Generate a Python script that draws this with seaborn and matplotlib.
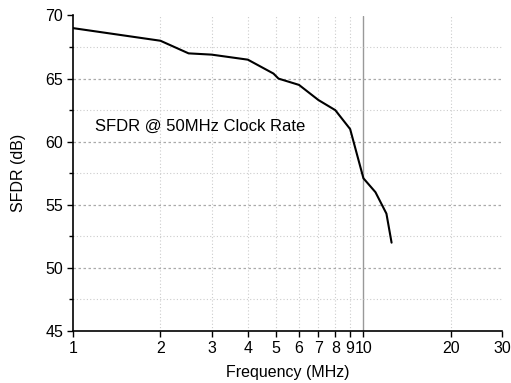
import matplotlib
matplotlib.use("Agg")
import matplotlib.pyplot as plt
import seaborn as sns
import pandas as pd
from matplotlib.ticker import FixedLocator, FixedFormatter, MultipleLocator, NullLocator

freq_mhz = [1, 2, 2.5, 3, 4, 4.9, 5.1, 6, 7, 8, 9, 10, 11, 12, 12.5]
sfdr_db = [69.0, 68.0, 67.0, 66.9, 66.5, 65.4, 65.0, 64.5, 63.3, 62.5, 61.0, 57.1, 56.0, 54.3, 52.0]
x_ticks = [1, 2, 3, 4, 5, 6, 7, 8, 9, 10, 20, 30]
x_tick_labels = ["1", "2", "3", "4", "5", "6", "7", "8", "9", "10", "20", "30"]
annotation = "SFDR @ 50MHz Clock Rate"

sns.set_style("ticks")
plt.rcParams['font.family'] = ['Liberation Sans', 'DejaVu Sans']
plt.rcParams['text.color'] = 'black'
plt.rcParams['axes.labelcolor'] = 'black'

df = pd.DataFrame({"freq": freq_mhz, "sfdr": sfdr_db})

fig = plt.figure(figsize=(5.11, 3.83), dpi=100)
ax = fig.add_axes([73/511, 1-331/383, (502-73)/511, (331-15.5)/383])

sns.lineplot(data=df, x="freq", y="sfdr", ax=ax, color="black", linewidth=1.5, sort=False)

ax.set_xscale("log")
ax.set_xlim(1, 30)
ax.set_ylim(45, 70)

ax.xaxis.set_major_locator(FixedLocator(x_ticks))
ax.xaxis.set_major_formatter(FixedFormatter(x_tick_labels))
ax.xaxis.set_minor_locator(NullLocator())
ax.yaxis.set_major_locator(MultipleLocator(5))
ax.yaxis.set_minor_locator(MultipleLocator(2.5))

# grid lines
for v in x_ticks:
    if v in (1, 30):
        continue
    if v == 10:
        ax.axvline(v, color="#999999", lw=1.0, zorder=0)
    else:
        ax.axvline(v, color="#cccccc", lw=0.8, ls=(0, (1, 2)), zorder=0)
for yv in [50, 55, 60, 65]:
    ax.axhline(yv, color="#aaaaaa", lw=0.9, ls=(0, (2, 2)), zorder=0)
for yv in [47.5, 52.5, 57.5, 62.5, 67.5]:
    ax.axhline(yv, color="#cccccc", lw=0.8, ls=(0, (1, 2)), zorder=0)

for s in ["top", "right"]:
    ax.spines[s].set_visible(False)
for s in ["left", "bottom"]:
    ax.spines[s].set_linewidth(1.2)
    ax.spines[s].set_color("black")

ax.tick_params(axis="both", which="major", direction="out", length=4, width=1.0,
               labelsize=11.5, colors="black", pad=3)
ax.tick_params(axis="y", which="minor", direction="out", length=3, width=1.0, colors="black")

ax.set_xlabel("Frequency (MHz)", fontsize=11.5, labelpad=7, color="black")
ax.set_ylabel("SFDR (dB)", fontsize=11.5, labelpad=14, color="black")

ax.text(1.19, 61.2, annotation, fontsize=12, va="center", ha="left", color="black")

fig.savefig("out.png", dpi=100)
